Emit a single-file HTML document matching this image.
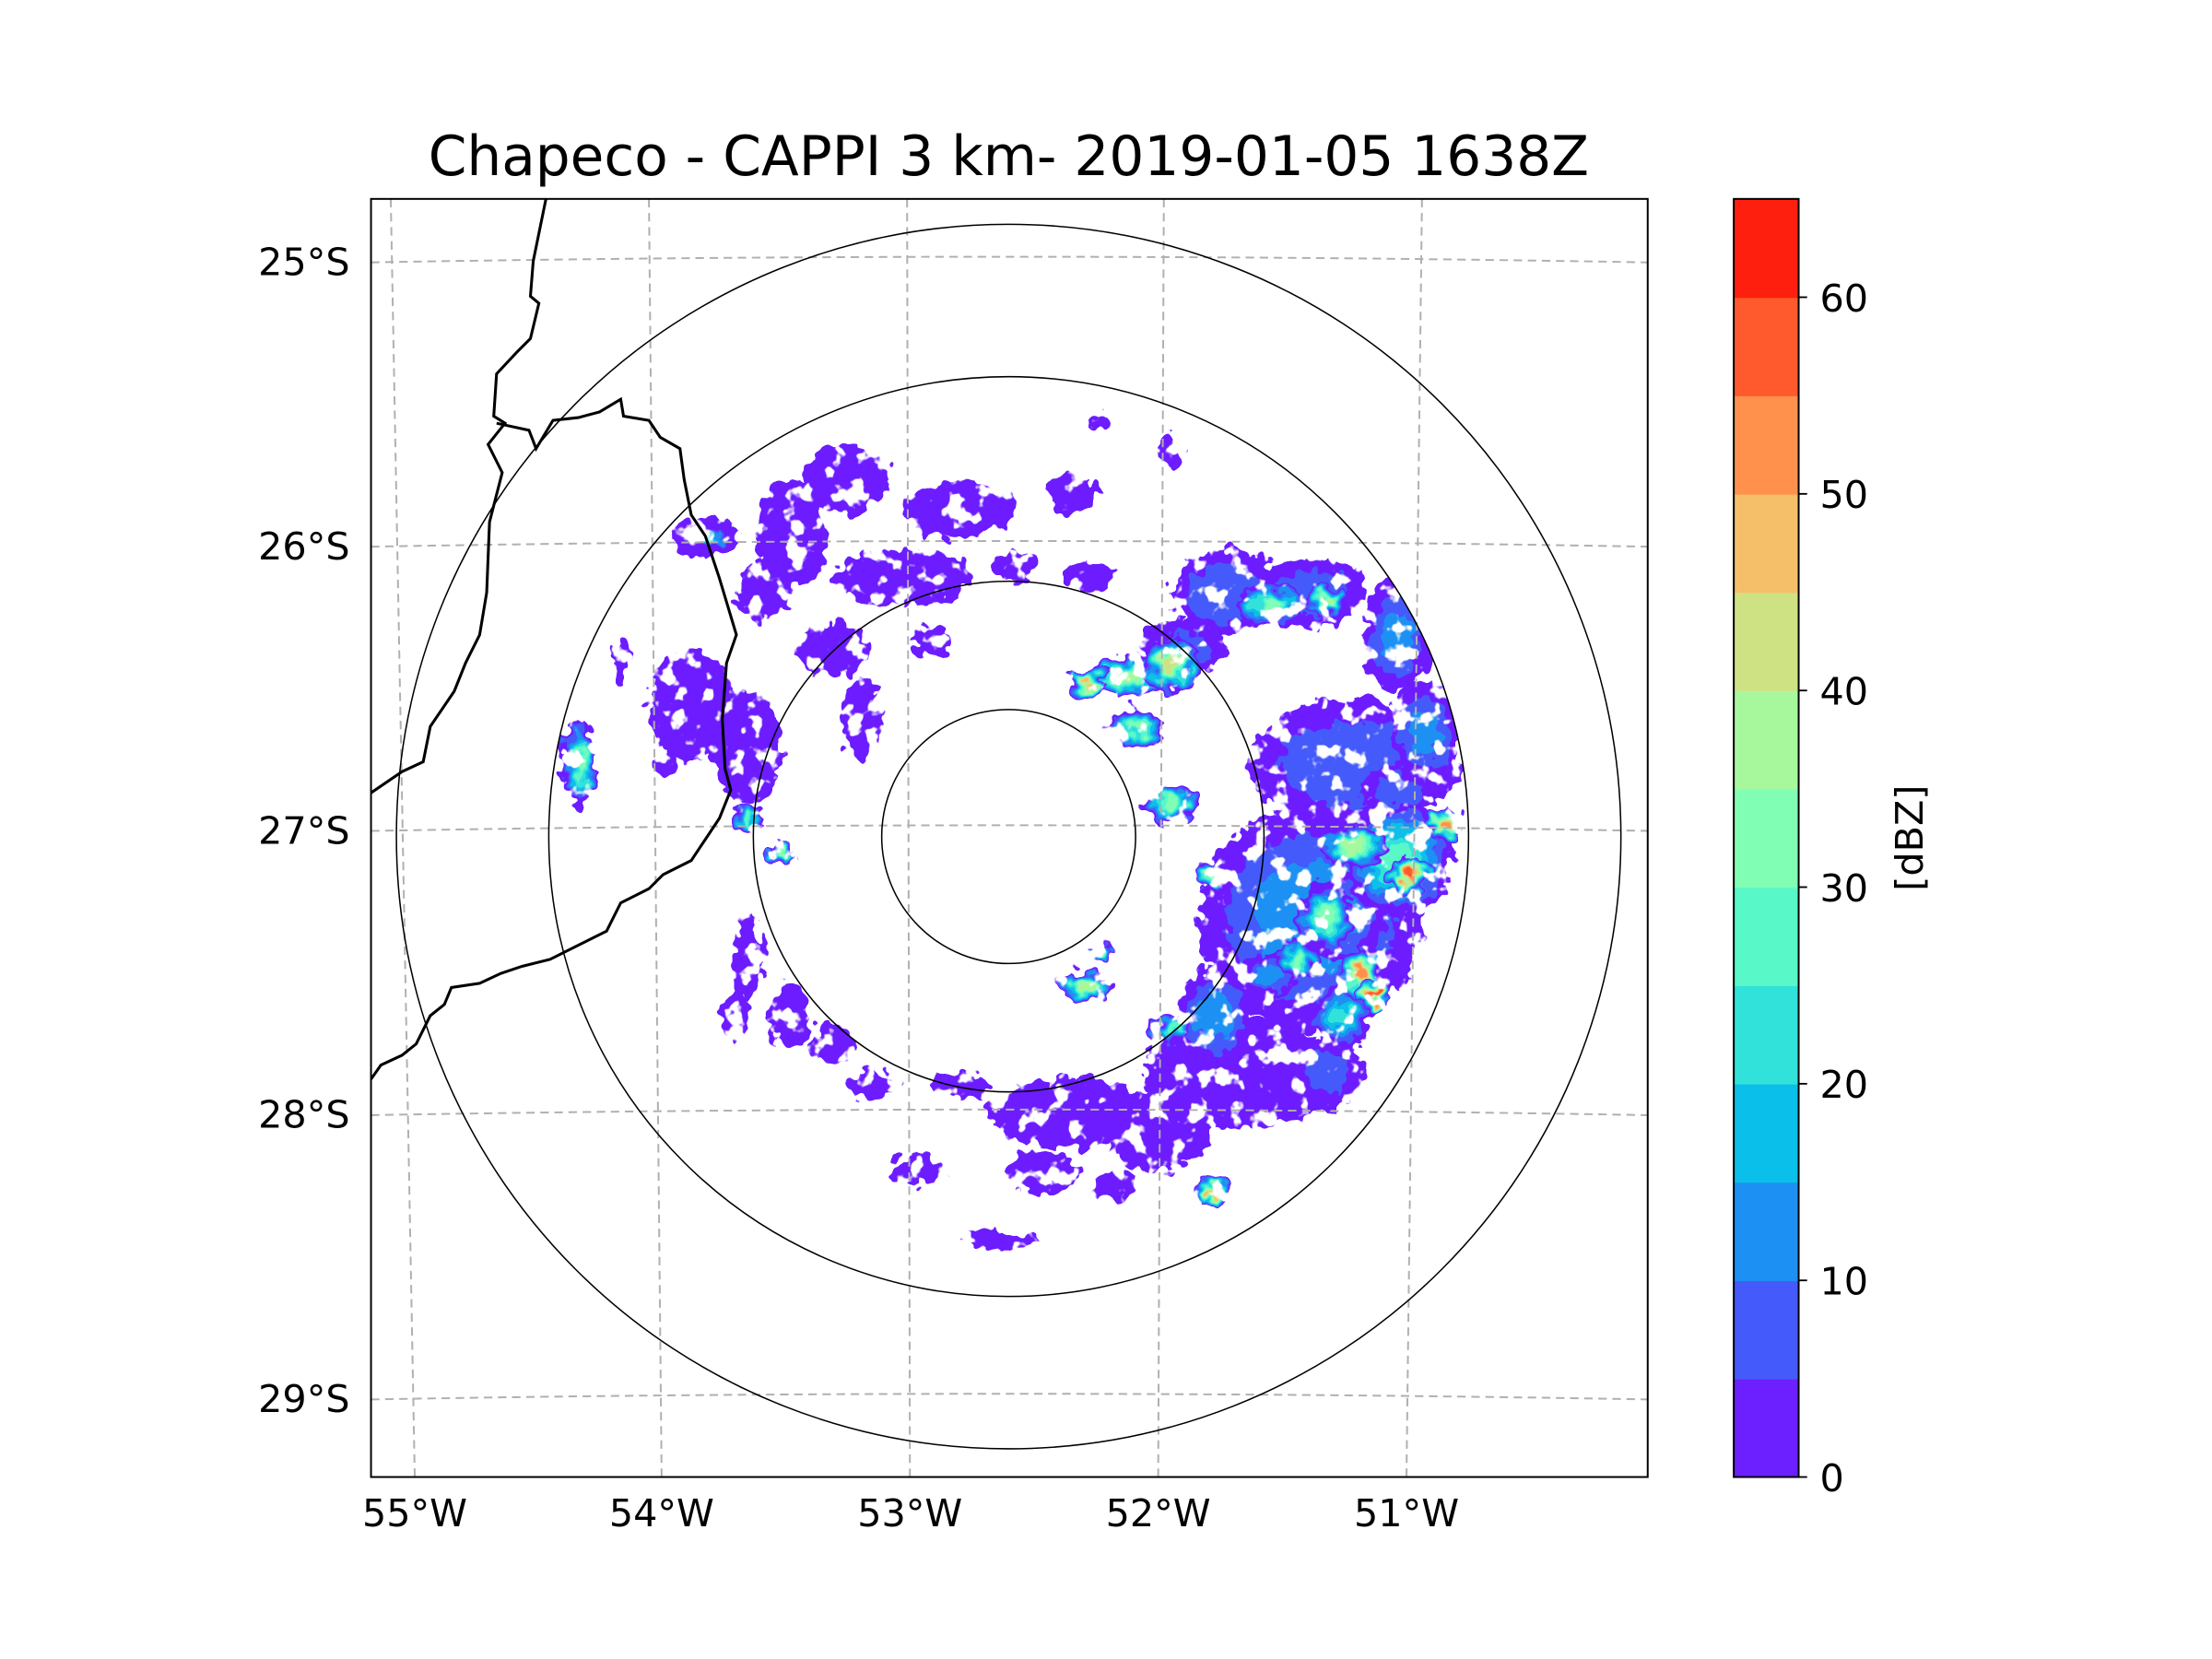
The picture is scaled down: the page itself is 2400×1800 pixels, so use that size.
<!DOCTYPE html>
<html><head><meta charset="utf-8"><style>
html,body{margin:0;padding:0;background:#fff;}
svg{display:block;}
text{font-family:"DejaVu Sans","Liberation Sans",sans-serif;}
</style></head><body>
<svg id="chart" xmlns="http://www.w3.org/2000/svg" width="2400" height="1800" viewBox="0 0 1568 1176">
<defs>
<filter id="rough" x="-30%" y="-30%" width="160%" height="160%">
<feTurbulence type="fractalNoise" baseFrequency="0.1" numOctaves="2" seed="3" result="n"/>
<feDisplacementMap in="SourceGraphic" in2="n" scale="18" xChannelSelector="R" yChannelSelector="G" result="d"/>
<feTurbulence type="fractalNoise" baseFrequency="0.07" numOctaves="3" seed="9" result="n2"/>
<feColorMatrix in="n2" type="matrix" values="0 0 0 0 0  0 0 0 0 0  0 0 0 0 0  14 0 0 0 -5" result="m"/>
<feComposite in="d" in2="m" operator="in"/>
</filter>
<clipPath id="axclip"><rect x="263" y="141" width="905" height="906"/></clipPath>
<clipPath id="radclip"><circle cx="715" cy="593" r="326"/></clipPath>
</defs>
<rect width="1568" height="1176" fill="#fff"/>
<text x="715" y="124" font-size="39" text-anchor="middle">Chapeco - CAPPI 3 km- 2019-01-05 1638Z</text>
<g id="echoes" clip-path="url(#radclip)"><g id="echoinner" filter="url(#rough)"></g></g>
<g id="grid" clip-path="url(#axclip)" stroke="#b0b0b0" stroke-width="1.3" stroke-dasharray="6,4" fill="none"></g>
<g id="rings" fill="none" stroke="#000" stroke-width="1"></g>
<g clip-path="url(#axclip)" fill="none" stroke="#000" stroke-width="2">
<polyline points="387,141 378,185 376,210 382,215 376,240 366,250 352,265 350,295 358,300 346,315 356,335 347,370 345,420 340,450 330,470 322,490 305,515 300,540 285,547 263,562"/>
<polyline points="352,300 375,305 380,318 392,298 410,296 425,292 440,283 442,295 460,298 468,310 482,318 485,340 490,365 500,380 510,410 516,430 522,450 515,470 512,510 514,545 518,560 510,580 500,595 490,610 470,620 460,630 440,640 430,660 410,670 390,680 370,685 355,690 340,697 320,700 315,712 305,720 295,740 285,748 270,755 263,765"/>
</g>
<rect x="263" y="141" width="905" height="906" fill="none" stroke="#000" stroke-width="1.3"/>
<g id="ticks" font-size="27"></g>
<g id="cbar" font-size="27"></g>
<text x="1354" y="594" font-size="27" text-anchor="middle" transform="rotate(-90 1354 594)" dy="9">[dBZ]</text>
</svg>
<script>
// echo data: east/north offset from radar (km), radii (km), reflectivity (dBZ)
const echoEast  = [136,119,92,25,58,-64,-19,-86,-42,25,-119,-97,-125,-103,-69,-58,86,119,153,69,-103,-86,-53,81,125, 131,103,47,64,31,50,-169,64,81,153,158,172,136,139,144,114,31,81,103,125,-89,-103,-119,36,64,164,131, -3,-36,-108,-69,-19,14,42,31,3,-31,-153,-136,64,36,153,125];
const echoNorth = [29,-32,-93,-109,-115,141,129,118,102,135,118,96,52,35,74,46,96,96,79,74,-48,-71,-98,-71,-93, -32,-54,63,68,60,43,29,13,-15,-9,-15,4,-4,-54,-62,-48,-59,-140,91,93,-7,7,118,-46,-76,41,-71, -159,-131,-71,-82,-98,-132,-137,102,107,77,68,29,152,163,18,-32];
const echoRx    = [42,44,39,33,22,17,22,14,28,11,14,11,17,14,14,8,22,22,14,17,6,8,11,15,15, 17,11,17,11,8,11,7,11,8,22,8,7,14,8,6,8,11,8,14,8,6,6,8,6,8,14,12, 15,10,6,8,12,14,10,10,8,8,4,5,5,4,14,12];
const echoRy    = [25,44,22,14,17,14,11,22,11,8,8,11,22,22,11,17,17,14,22,11,17,14,6,20,15, 17,8,8,11,6,8,17,8,6,22,7,7,8,11,6,8,6,6,8,6,4,6,4,3,6,20,12, 4,6,10,8,5,8,6,6,6,5,8,6,6,4,10,12];
const echoDbz   = [8,12,4,3,3,4,3,4,4,3,3,3,4,4,3,4,8,8,10,6,3,3,3,12,5, 12,12,35,42,48,30,30,30,38,25,55,50,35,50,58,30,38,45,30,38,30,25,25,30,25,10,20, 3,3,3,3,3,3,3,3,3,3,3,3,3,3,8,30];
const rangeRings = [50, 100, 180, 240];
const lonTicks = ["55°W","54°W","53°W","52°W","51°W"];
const lonTop = [277,460,643,825,1008], lonBot=[294,469,645,821,997];
const latTicks = ["25°S","26°S","27°S","28°S","29°S"];
const latVals = [25,26,27,28,29];
const cbarLevels = [0,5,10,15,20,25,30,35,40,45,50,55,60,65];
const cbarTicks = [0,10,20,30,40,50,60];

const NS="http://www.w3.org/2000/svg";
const CX=715, CY=593, PXKM=1.8;
const xe=e=>CX+e*PXKM, yn=n=>CY-n*PXKM;
const yLat=l=>185+(l-25)*201.5;
function rainbow(t){const r=Math.min(1,Math.abs(2*t-0.5)),g=Math.sin(Math.PI*t),b=Math.cos(Math.PI*t/2);
 return `rgb(${Math.round(r*255)},${Math.round(g*255)},${Math.round(Math.max(0,b)*255)})`;}
const binColor=i=>rainbow((i+0.5)/13);
const colorFor=v=>binColor(Math.min(12,Math.floor(v/5)));
function mk(tag,attrs,parent){const el=document.createElementNS(NS,tag);for(const k in attrs)el.setAttribute(k,attrs[k]);parent.appendChild(el);return el;}

const eg=document.getElementById('echoinner');
const idx=echoDbz.map((v,i)=>i).sort((a,b)=>echoDbz[a]-echoDbz[b]);
idx.forEach(i=>{
  const v=echoDbz[i];
  for(let lv=0;lv<=v;lv+=5){
    const f=1-(lv/(v+5))*0.85;
    const el=mk('ellipse',{cx:xe(echoEast[i]),cy:yn(echoNorth[i]),rx:echoRx[i]*PXKM*f,ry:echoRy[i]*PXKM*f,fill:colorFor(lv)},eg);
    
    
  }
});

const gg=document.getElementById('grid');
lonTop.forEach((t,i)=>{const el=mk('line',{x1:t,y1:141,x2:lonBot[i],y2:1047},gg);
 });
latVals.forEach(l=>{const y=yLat(l);const el=mk('path',{d:`M263 ${y+1} Q715 ${y-7} 1168 ${y+1}`},gg);
 });

const rg=document.getElementById('rings');
const ringPx=[90,181,326,434];
rangeRings.forEach((r,i)=>{const el=mk('circle',{cx:CX,cy:CY,r:ringPx[i]},rg);
 });

const tg=document.getElementById('ticks');
lonTicks.forEach((t,i)=>{const el=mk('text',{x:lonBot[i],y:1082,'text-anchor':'middle'},tg);el.textContent=t;
 });
latTicks.forEach((t,i)=>{const el=mk('text',{x:248,y:yLat(latVals[i])+10,'text-anchor':'end'},tg);el.textContent=t;
 });

const cb=document.getElementById('cbar');
const CB0=1047,CB1=141,yC=v=>CB0-(v/65)*(CB0-CB1);
for(let i=0;i<cbarLevels.length-1;i++){
 const el=mk('rect',{x:1229,y:yC(cbarLevels[i+1]),width:46,height:yC(cbarLevels[i])-yC(cbarLevels[i+1])+0.5,fill:binColor(i)},cb);
 }
const fr=mk('rect',{x:1229,y:141,width:46,height:906,fill:'none',stroke:'#000','stroke-width':1.3},cb);

cbarTicks.forEach(v=>{
 const l=mk('line',{x1:1275,y1:yC(v),x2:1281,y2:yC(v),stroke:'#000','stroke-width':1.2},cb);
 
 const t=mk('text',{x:1290,y:yC(v)+10},cb);t.textContent=v;
 });
</script>
</body></html>
